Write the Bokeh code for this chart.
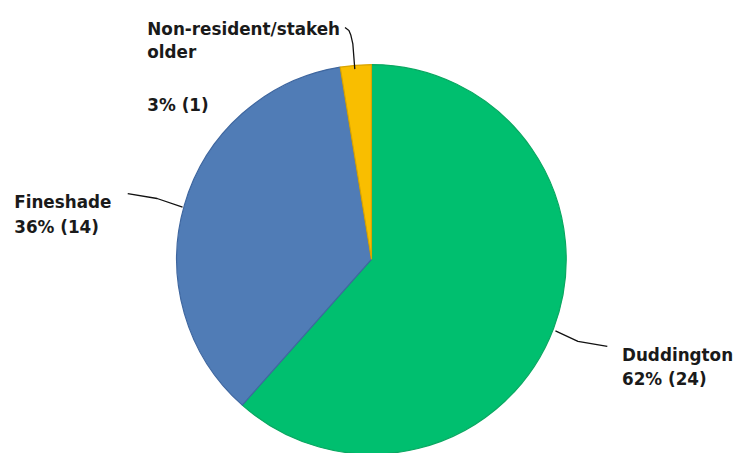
import numpy as np
from bokeh.plotting import figure
from bokeh.models import Range1d, ColumnDataSource
from bokeh.core.properties import value
from bokeh.embed import file_html
from bokeh.resources import INLINE

# ---- data ----
categories = ["Duddington", "Fineshade", "Non-resident/stakeholder"]
counts = [24, 14, 1]
percent_labels = ["62%", "36%", "3%"]
colors = ["#00BF6F", "#507CB6", "#F9BE00"]
edge_colors = ["#0aa862", "#3f67a0", "#d9a400"]

W, H = 736, 453
RW, RH = 752, 469  # reference frame
p = figure(width=W, height=H, output_backend="svg", toolbar_location=None,
           x_range=Range1d(0, RW), y_range=Range1d(0, RH),
           min_border=0)
p.axis.visible = False
p.grid.visible = False
p.outline_line_color = None
p.background_fill_color = "white"

def sy(y):
    return RH - y

cnt = np.array(counts, dtype=float)
frac = cnt / cnt.sum()
cum = np.concatenate([[0], np.cumsum(frac)])
start = np.pi / 2 - cum[1:] * 2 * np.pi
end = np.pi / 2 - cum[:-1] * 2 * np.pi

src = ColumnDataSource(dict(cat=categories, start=start, end=end,
                            fill=colors, edge=edge_colors))
cx, cy, r = 379, sy(268), 199
p.wedge(x=cx, y=cy, radius=r, start_angle="start", end_angle="end",
        fill_color="fill", line_color="edge", line_width=1.2, source=src)

# leader lines
p.line(x=[362, 360, 358, 356, 352], y=[sy(71), sy(45), sy(36), sy(31), sy(28)],
       line_color="#111111", line_width=1.3)
p.line(x=[130, 160, 186], y=[sy(200), sy(205), sy(214)],
       line_color="#111111", line_width=1.3)
p.line(x=[567, 590, 620], y=[sy(342), sy(353), sy(358)],
       line_color="#111111", line_width=1.3)

font = value("DejaVu Sans")
def lab(x, y, t):
    p.text(x=[x], y=[sy(y)], text=[t], text_font=font, text_font_size="16.8px",
           text_font_style="bold", text_color="#1a1a1a",
           text_baseline="alphabetic", text_align="left")

name0 = categories[2]
lab(150, 30, name0[:19])
lab(150, 53, name0[19:])
lab(150, 108, f"{percent_labels[2]} ({counts[2]})")
lab(14, 209, categories[1])
lab(14, 234, f"{percent_labels[1]} ({counts[1]})")
lab(635, 367, categories[0])
lab(635, 392, f"{percent_labels[0]} ({counts[0]})")

open("out.html", "w").write(file_html(p, INLINE))
